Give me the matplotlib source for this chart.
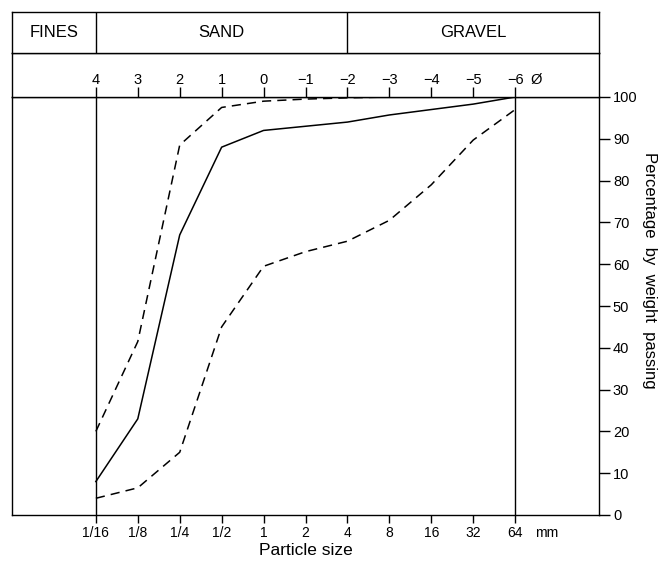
import numpy as np
import matplotlib.pyplot as plt
from matplotlib.ticker import NullLocator

plt.rcParams['font.family'] = ['Liberation Sans', 'DejaVu Sans']

# Datos (phi y porcentaje que pasa)
phi = [4, 3, 2, 1, 0, -1, -2, -3, -4, -5, -6]
median = [8, 23, 67, 88, 92, 93, 94, 95.7, 97, 98.3, 100]
upper = [20, 41.5, 88.5, 97.5, 99, 99.5, 99.8, 100, 100, 100, 100]
lower = [4, 6.5, 15, 45, 59.5, 63, 65.5, 70.5, 79, 89.7, 97]

size_labels = ['1/16', '1/8', '1/4', '1/2', '1', '2', '4', '8', '16', '32', '64']
phi_labels = ['4', '3', '2', '1', '0', '\u22121', '\u22122', '\u22123', '\u22124', '\u22125', '\u22126']
class_names = ['FINES', 'SAND', 'GRAVEL']
class_edges_phi = [6, 4, -2, -8]
pct_ticks = list(range(0, 101, 10))

mm = 2.0 ** (-np.array(phi, dtype=float))
edges_mm = 2.0 ** (-np.array(class_edges_phi, dtype=float))

W, H = 668, 563
def rect(x0, y0, x1, y1):
    return [x0 / W, 1 - y1 / H, (x1 - x0) / W, (y1 - y0) / H]

fig = plt.figure(figsize=(W / 100, H / 100), dpi=100)
ax = fig.add_axes(rect(12, 97, 599, 515))
ax_phi = fig.add_axes(rect(12, 53, 599, 97))
ax_cls = fig.add_axes(rect(12, 12, 599, 53))

lw = 1.0
for a in (ax, ax_phi, ax_cls):
    for s in a.spines.values():
        s.set_linewidth(lw)
    a.set_xscale('log', base=2)
    a.set_xlim(edges_mm[0], edges_mm[-1])
    a.xaxis.set_minor_locator(NullLocator())

ax.set_ylim(0, 100)

# Curvas granulométricas
ax.plot(mm, median, color='black', lw=1.1)
ax.plot(mm, upper, color='black', lw=1.1, linestyle=(0, (6, 4)))
ax.plot(mm, lower, color='black', lw=1.1, linestyle=(0, (6, 4)))
ax.axvline(mm[0], color='black', lw=lw)
ax.axvline(mm[-1], color='black', lw=lw)

# Eje inferior: tamaño de partícula
ax.set_xticks(mm)
ax.set_xticklabels(size_labels)
ax.tick_params(axis='x', direction='out', length=6, width=lw, labelsize=10, pad=2)
ax.text(2 ** 6.75, -0.026, 'mm', transform=ax.get_xaxis_transform(),
        ha='center', va='top', fontsize=10)
ax.set_xlabel('Particle size', fontsize=12.5, labelpad=2)

# Eje derecho: porcentaje
ax.yaxis.tick_right()
ax.yaxis.set_label_position('right')
ax.set_yticks(pct_ticks)
ax.tick_params(axis='y', direction='out', length=8, width=lw, labelsize=10.5, pad=2)
ax.set_ylabel('Percentage  by  weight  passing', rotation=-90, va='bottom',
              fontsize=12, labelpad=3, y=0.585)

# Fila de la escala phi
ax_phi.set_ylim(0, 1)
ax_phi.set_yticks([])
ax_phi.set_xticks(mm)
ax_phi.tick_params(axis='x', direction='in', length=7, width=lw, labelbottom=False)
for x, lab in zip(mm, phi_labels):
    ax_phi.text(x, 0.39, lab, transform=ax_phi.get_xaxis_transform(),
                ha='center', va='center', fontsize=10.5)
ax_phi.text(2 ** 6.5, 0.39, '\u00d8', transform=ax_phi.get_xaxis_transform(),
            ha='center', va='center', fontsize=10.5)

# Fila de clases
ax_cls.set_ylim(0, 1)
ax_cls.set_yticks([])
ax_cls.set_xticks([])
for e in edges_mm[1:-1]:
    ax_cls.axvline(e, color='black', lw=lw)
for i, name in enumerate(class_names):
    xc = np.sqrt(edges_mm[i] * edges_mm[i + 1])
    ax_cls.text(xc, 0.5, name, ha='center', va='center', fontsize=12,
                transform=ax_cls.get_xaxis_transform())

fig.savefig('out.png', dpi=100)
